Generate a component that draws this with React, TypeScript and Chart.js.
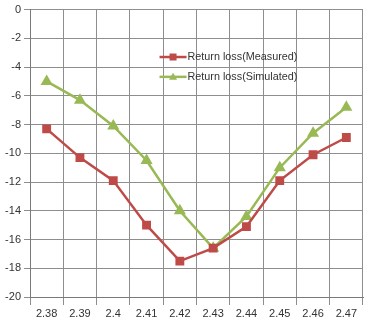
import React, { useEffect, useRef } from "react";
import { Chart, registerables } from "chart.js";

Chart.register(...registerables);

const categories = ["2.38", "2.39", "2.4", "2.41", "2.42", "2.43", "2.44", "2.45", "2.46", "2.47"];
const measured = [-8.3, -10.3, -11.9, -15.0, -17.5, -16.6, -15.1, -11.9, -10.1, -8.9];
const simulated = [-5.0, -6.3, -8.1, -10.5, -14.0, -16.6, -14.4, -11.0, -8.6, -6.8];
const seriesNames = ["Return loss(Measured)", "Return loss(Simulated)"];

const RED = "#BE4B48";
const GREEN = "#98B954";
const GRID = "#8e8e8e";
const FONT = "'Liberation Sans', Arial, sans-serif";

const legendPlugin = {
  id: "customLegend",
  afterDraw(chart: any) {
    const ctx = chart.ctx;
    const ca = chart.chartArea;
    const w = ca.right - ca.left;
    const h = ca.bottom - ca.top;
    const x0 = ca.left + w * 0.389;
    const x1 = x0 + 27;
    const ys = [ca.top + h * 0.165, ca.top + h * 0.234];
    chart.data.datasets.forEach((ds: any, i: number) => {
      const y = ys[i];
      ctx.save();
      ctx.strokeStyle = ds.borderColor;
      ctx.lineWidth = 2.5;
      ctx.beginPath();
      ctx.moveTo(x0, y);
      ctx.lineTo(x1, y);
      ctx.stroke();
      ctx.fillStyle = ds.pointBackgroundColor;
      const cx = (x0 + x1) / 2;
      if (ds.pointStyle === "rect") {
        ctx.fillRect(cx - 3.5, y - 3.5, 7, 7);
      } else {
        ctx.beginPath();
        ctx.moveTo(cx, y - 4);
        ctx.lineTo(cx + 4, y + 3);
        ctx.lineTo(cx - 4, y + 3);
        ctx.closePath();
        ctx.fill();
      }
      ctx.fillStyle = "#333";
      ctx.font = "10.8px " + FONT;
      ctx.textBaseline = "middle";
      ctx.textAlign = "left";
      ctx.fillText(ds.label, x1 + 1, y);
      ctx.restore();
    });
  },
};

export default function App() {
  const ref = useRef<HTMLCanvasElement>(null);
  useEffect(() => {
    if (!ref.current) return;
    const chart = new Chart(ref.current, {
      type: "line",
      data: {
        labels: categories,
        datasets: [
          {
            label: seriesNames[0],
            data: measured,
            borderColor: RED,
            backgroundColor: RED,
            pointBackgroundColor: RED,
            pointBorderColor: RED,
            pointStyle: "rect",
            pointRadius: 4.5,
            borderWidth: 2.5,
            tension: 0,
          },
          {
            label: seriesNames[1],
            data: simulated,
            borderColor: GREEN,
            backgroundColor: GREEN,
            pointBackgroundColor: GREEN,
            pointBorderColor: GREEN,
            pointStyle: "triangle",
            pointRadius: 4.5,
            borderWidth: 2.5,
            tension: 0,
          },
        ],
      },
      options: {
        animation: false,
        responsive: false,
        maintainAspectRatio: false,
        layout: { padding: { top: 7, right: 6, left: 0, bottom: 0 } },
        plugins: { legend: { display: false }, tooltip: { enabled: false } },
        scales: {
          x: {
            type: "category",
            offset: true,
            grid: {
              offset: true,
              color: GRID,
              lineWidth: 1,
              drawTicks: true,
              tickLength: 8,
              tickColor: GRID,
            },
            border: { color: "#7a7a7a" },
            ticks: { color: "#333", font: { family: FONT, size: 11 }, padding: 2, maxRotation: 0 },
            afterFit: (s: any) => {
              s.height = 22;
            },
          },
          y: {
            min: -20,
            max: 0,
            ticks: { stepSize: 2, color: "#333", font: { family: FONT, size: 11 }, padding: 3 },
            grid: { color: GRID, lineWidth: 1, tickLength: 6, tickColor: GRID },
            border: { color: "#7a7a7a" },
            afterFit: (s: any) => {
              s.width = 30;
            },
          },
        },
      },
      plugins: [legendPlugin],
    });
    return () => chart.destroy();
  }, []);
  return (
    <div style={{ position: "absolute", left: 0, top: 0, width: 370, height: 319, background: "#fff" }}>
      <canvas ref={ref} width={370} height={319} style={{ display: "block" }} />
    </div>
  );
}
